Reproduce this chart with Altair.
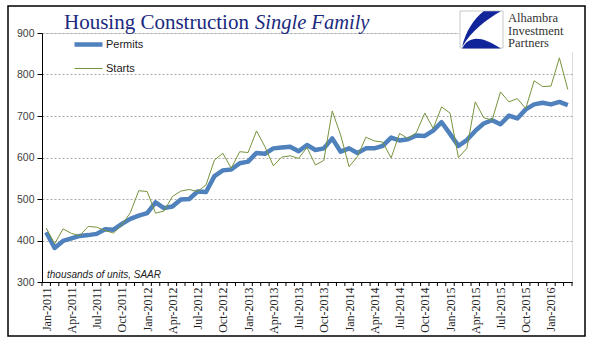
import altair as alt
import pandas as pd

# Monthly, Jan-2011 .. Mar-2016 (thousands of units, SAAR)
permits = [420, 382, 399, 405, 411, 413, 416, 427, 426, 440, 452, 460,
           466, 492, 478, 482, 499, 500, 518, 517, 555, 569, 571, 586,
           590, 611, 609, 622, 624, 626, 615, 630, 618, 622, 646, 614,
           622, 611, 622, 622, 628, 648, 641, 644, 653, 652, 665, 685,
           657, 628, 642, 664, 682, 690, 680, 701, 694, 716, 728, 732,
           728, 734, 726]
starts = [430, 392, 428, 417, 412, 434, 432, 424, 418, 438, 467, 520,
          518, 466, 471, 506, 519, 523, 518, 534, 594, 610, 574, 614,
          612, 664, 626, 580, 601, 604, 598, 624, 582, 593, 712, 654,
          578, 602, 649, 640, 637, 599, 658, 646, 660, 707, 670, 722,
          707, 600, 622, 734, 696, 690, 758, 734, 742, 718, 785, 771,
          772, 840, 764]
series_names = ["Permits", "Starts"]
series_colors = ["#4f81bd", "#77933c"]
series_widths = [4.5, 1.0]
tick_labels = ["Jan-2011", "Apr-2011", "Jul-2011", "Oct-2011",
               "Jan-2012", "Apr-2012", "Jul-2012", "Oct-2012",
               "Jan-2013", "Apr-2013", "Jul-2013", "Oct-2013",
               "Jan-2014", "Apr-2014", "Jul-2014", "Oct-2014",
               "Jan-2015", "Apr-2015", "Jul-2015", "Oct-2015",
               "Jan-2016"]
y_ticks = [300, 400, 500, 600, 700, 800, 900]

n = len(permits)
df = pd.DataFrame({
    "idx": list(range(n)) * 2,
    "series": [series_names[0]] * n + [series_names[1]] * n,
    "value": permits + starts,
})
bounds = pd.DataFrame({"idx": [i - 0.5 for i in range(n + 1)]})

x_scale = alt.Scale(domain=[-0.5, n - 0.5], nice=False, zero=False)
y_scale = alt.Scale(domain=[300, 900], nice=False, zero=False)
label_js = "[" + ",".join("'%s'" % s for s in tick_labels) + "]"

x_axis = alt.Axis(values=list(range(0, n, 3)), labelExpr=label_js + "[round(datum.value/3)]",
                  ticks=False, tickSize=0, domainColor="black", domainWidth=1, grid=False,
                  labelAngle=270, labelFont="Liberation Serif", labelFontSize=12,
                  labelColor="#222222", labelPadding=5, title=None, labelOverlap=False)

one = pd.DataFrame({"a": [0]})

legend_kw = dict(title=None, orient="none", legendX=30, legendY=-5,
                 symbolType="stroke", symbolSize=784, padding=0,
                 labelFont="Liberation Sans", labelFontSize=11,
                 labelColor="#222222", labelOffset=1, rowPadding=-15)

lines = alt.Chart(df).mark_line(strokeJoin="round", strokeCap="butt").encode(
    x=alt.X("idx:Q", scale=x_scale, axis=x_axis),
    y=alt.Y("value:Q", scale=y_scale,
            axis=alt.Axis(values=y_ticks, grid=True, gridDash=[2, 2], gridColor="#a8a8a8",
                          tickSize=5, tickColor="black", domainColor="black",
                          labelFont="Liberation Sans", labelFontSize=10.5, labelColor="#404040",
                          labelPadding=3, title=None)),
    color=alt.Color("series:N", scale=alt.Scale(domain=series_names, range=series_colors),
                    legend=alt.Legend(**legend_kw)),
    strokeWidth=alt.StrokeWidth("series:N", scale=alt.Scale(domain=series_names, range=series_widths),
                                legend=alt.Legend(**legend_kw)),
)

ticks = alt.Chart(bounds).mark_rule(color="black", strokeWidth=1).encode(
    x=alt.X("idx:Q", scale=x_scale, axis=x_axis),
    y=alt.value(249), y2=alt.value(253))

logo_box = alt.Chart(one).mark_rect(fill="white").encode(
    x=alt.value(417), x2=alt.value(542), y=alt.value(-26), y2=alt.value(19))
logo_sq = alt.Chart(one).mark_rect(fill="white", stroke="#c8c8c8", strokeWidth=1).encode(
    x=alt.value(418), x2=alt.value(461), y=alt.value(-22), y2=alt.value(15))
logo_path = ("M 0.1,-0.85 L 0.9,-0.85 C 0.2,-0.45 -0.45,0.05 -0.9,0.8 "
             "C -0.75,0.1 -0.35,-0.5 0.1,-0.85 Z "
             "M -0.9,0.88 C -0.6,0.3 -0.05,0.25 0.9,0.88 Z")
logo_mark = alt.Chart(one).mark_point(shape=logo_path, filled=True, fill="#12249a",
                                      opacity=1).encode(
    x=alt.value(439.5), y=alt.value(-3.5), size=alt.value(1849))
logo_font = dict(align="left", baseline="alphabetic", font="Liberation Serif",
                 fontSize=12.5, color="#333333")
logo_t1 = alt.Chart(one).mark_text(text="Alhambra", **logo_font).encode(
    x=alt.value(466), y=alt.value(-11))
logo_t2 = alt.Chart(one).mark_text(text="Investment", **logo_font).encode(
    x=alt.value(466), y=alt.value(1.5))
logo_t3 = alt.Chart(one).mark_text(text="Partners", **logo_font).encode(
    x=alt.value(466), y=alt.value(14))

title1 = alt.Chart(one).mark_text(text="Housing Construction", align="left", baseline="alphabetic",
                                  font="Liberation Serif", fontSize=21, color="#1b2a7e").encode(
    x=alt.value(22), y=alt.value(-4))
title2 = alt.Chart(one).mark_text(text="Single Family", align="left", baseline="alphabetic",
                                  font="Liberation Serif", fontSize=20.5, fontStyle="italic",
                                  color="#1b2a7e").encode(
    x=alt.value(213), y=alt.value(-4))
subtitle = alt.Chart(one).mark_text(text="thousands of units, SAAR", align="left", baseline="alphabetic",
                                    font="Liberation Sans", fontSize=10, fontStyle="italic",
                                    color="#222222").encode(
    x=alt.value(5), y=alt.value(245))

frame = alt.Chart(one).mark_rect(fill="transparent", stroke="black", strokeWidth=1.5).encode(
    x=alt.value(-34), x2=alt.value(543), y=alt.value(-27), y2=alt.value(303))

chart = alt.layer(
    lines, ticks, logo_box, logo_sq, logo_mark, logo_t1, logo_t2, logo_t3,
    title1, title2, subtitle, frame
).properties(
    width=530, height=249,
    padding={"left": 42, "top": 33, "right": 33, "bottom": 59},
    autosize=alt.AutoSizeParams(type="none"),
).configure_view(stroke="#8a8a8a", strokeWidth=1).configure(background="white")

chart.save("out.html", embed_options={"renderer": "svg", "actions": False})
